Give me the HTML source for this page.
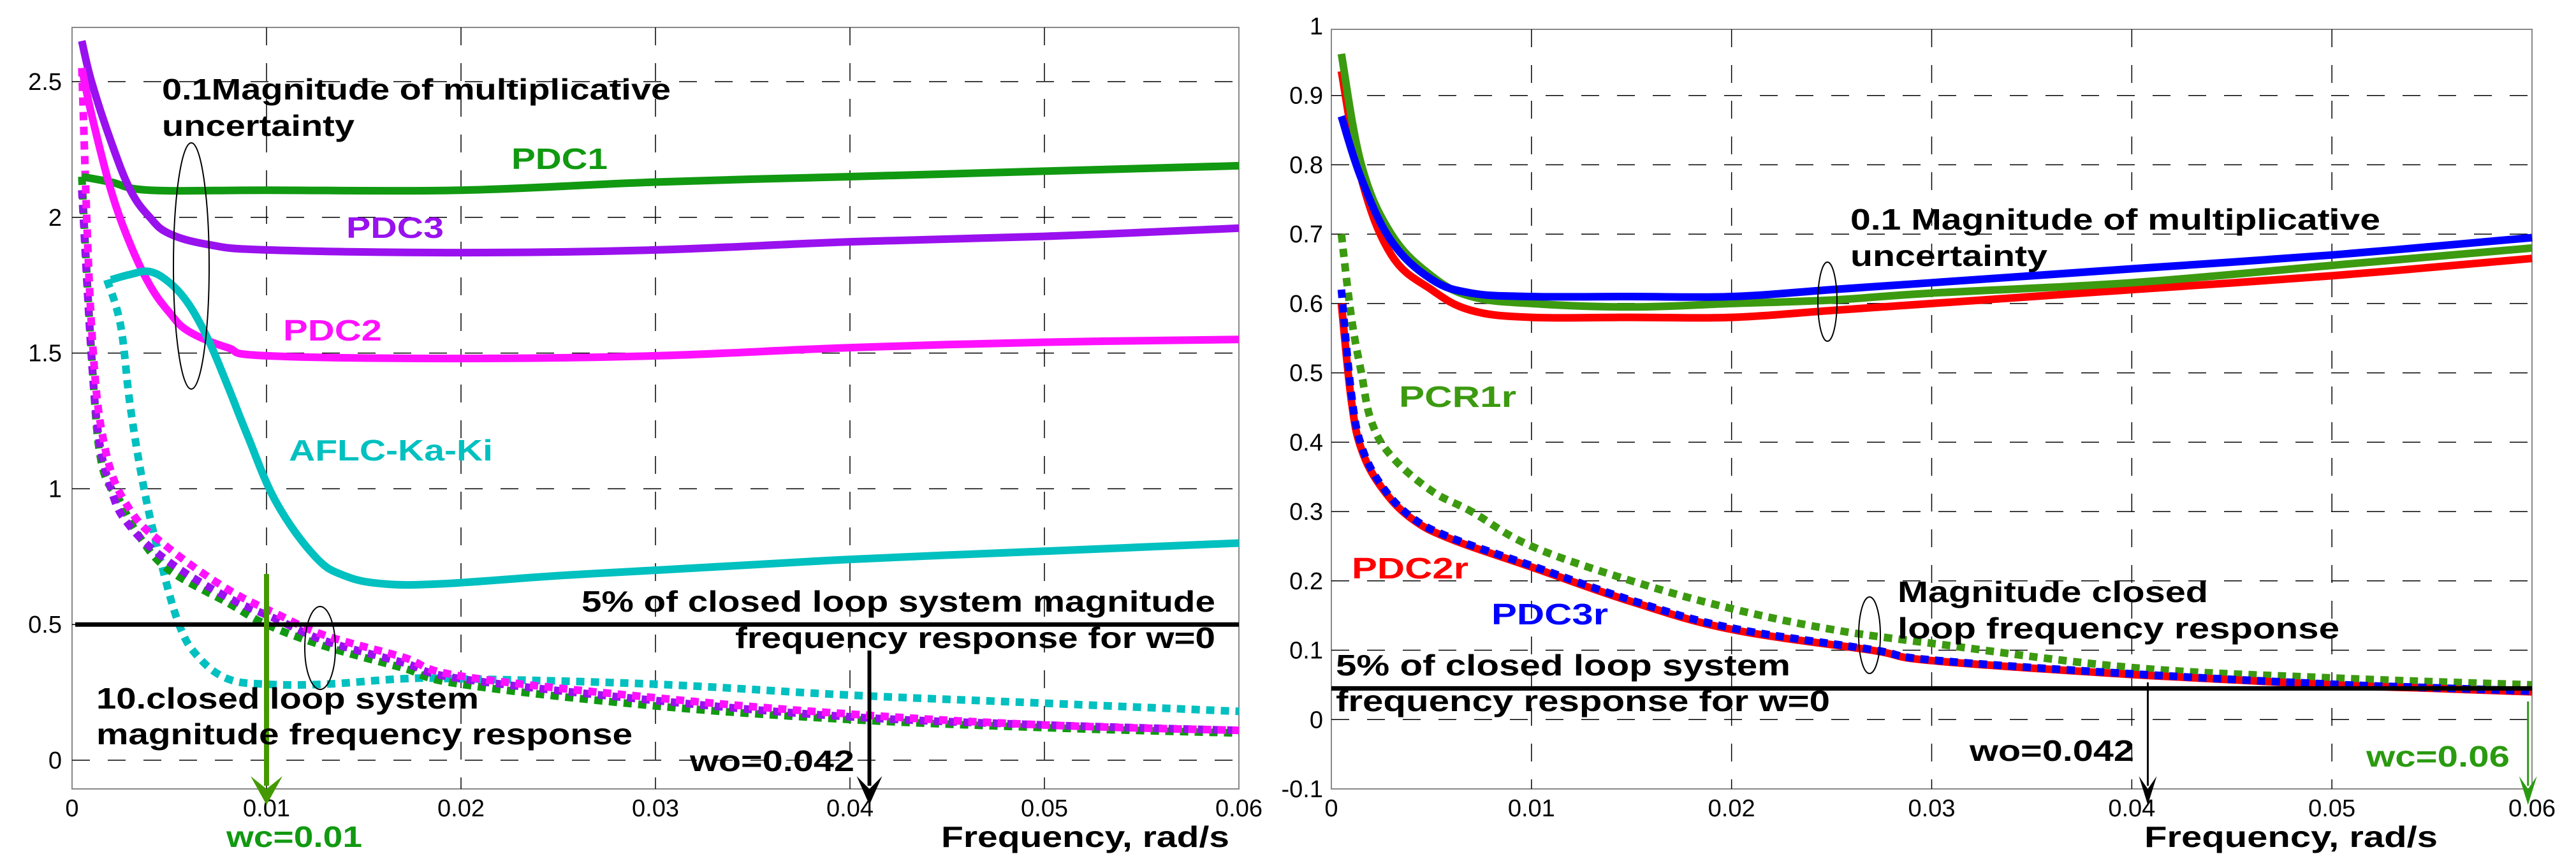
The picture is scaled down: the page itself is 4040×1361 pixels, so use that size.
<!DOCTYPE html>
<html><head><meta charset="utf-8"><style>
html,body{margin:0;padding:0;background:#fff;}
svg{display:block;font-family:"Liberation Sans",sans-serif;}
.t{font-size:38px;fill:#000;}
.b{font-size:46px;font-weight:bold;}
</style></head><body>
<svg id="c" width="4040" height="1361" viewBox="0 0 4040 1361" xmlns="http://www.w3.org/2000/svg">
<g id="L"></g>
<g id="R"></g>
</svg>
<script>
// ---------- data ----------
const xTicks = [0,0.01,0.02,0.03,0.04,0.05,0.06];
const xTickLabels = ["0","0.01","0.02","0.03","0.04","0.05","0.06"];
const leftYTicks = [0,0.5,1,1.5,2,2.5];
const leftYTickLabels = ["0","0.5","1","1.5","2","2.5"];
const rightYTicks = [-0.1,0,0.1,0.2,0.3,0.4,0.5,0.6,0.7,0.8,0.9,1];
const rightYTickLabels = ["-0.1","0","0.1","0.2","0.3","0.4","0.5","0.6","0.7","0.8","0.9","1"];

const pdc1X = [0.0005,0.002,0.004,0.01,0.02,0.03,0.04,0.05,0.06];
const pdc1Y = [2.15,2.13,2.1,2.1,2.1,2.13,2.15,2.17,2.19];
const pdc3X = [0.0005,0.001,0.002,0.003,0.004,0.005,0.007,0.01,0.02,0.03,0.04,0.05,0.06];
const pdc3Y = [2.65,2.5,2.28,2.1,2.0,1.94,1.9,1.88,1.87,1.88,1.91,1.93,1.96];
const pdc2X = [0.0005,0.001,0.002,0.003,0.004,0.005,0.006,0.008,0.01,0.02,0.03,0.04,0.05,0.06];
const pdc2Y = [2.55,2.38,2.1,1.9,1.75,1.65,1.58,1.52,1.49,1.48,1.49,1.52,1.54,1.55];
const aflcX = [0.002,0.003,0.004,0.005,0.006,0.007,0.008,0.009,0.0105,0.0125,0.014,0.016,0.019,0.025,0.03,0.04,0.05,0.06];
const aflcY = [1.77,1.79,1.8,1.76,1.68,1.55,1.38,1.2,0.95,0.75,0.68,0.65,0.65,0.68,0.7,0.74,0.77,0.8];
const aflcCLX = [0.0018,0.0025,0.003,0.0037,0.0045,0.0055,0.0065,0.008,0.01,0.013,0.017,0.02,0.03,0.04,0.05,0.06];
const aflcCLY = [1.77,1.6,1.3,1.0,0.75,0.5,0.38,0.3,0.28,0.28,0.3,0.3,0.28,0.24,0.21,0.18];
const pdc1CLX = [0.0005,0.001,0.0015,0.0025,0.0035,0.005,0.008,0.01,0.013,0.017,0.02,0.03,0.04,0.05,0.06];
const pdc1CLY = [2.15,1.5,1.1,0.95,0.82,0.7,0.58,0.5,0.42,0.34,0.28,0.2,0.15,0.12,0.1];
const pdc3CLX = [0.0005,0.0012,0.002,0.003,0.005,0.008,0.0105,0.013,0.017,0.02,0.03,0.04,0.05,0.06];
const pdc3CLY = [2.1,1.3,1.0,0.86,0.73,0.6,0.52,0.44,0.36,0.3,0.22,0.16,0.13,0.11];
const pdc2CLX = [0.0005,0.001,0.0017,0.003,0.005,0.008,0.0105,0.013,0.017,0.02,0.03,0.04,0.05,0.06];
const pdc2CLY = [2.55,1.6,1.15,0.92,0.78,0.63,0.54,0.46,0.38,0.31,0.23,0.17,0.13,0.11];
const leftThreshold = 0.5;

const rX = [0.0005,0.0015,0.003,0.005,0.007,0.01,0.015,0.02,0.025,0.03,0.04,0.05,0.06];
const pcr1rY = [0.96,0.8,0.7,0.64,0.61,0.6,0.595,0.6,0.605,0.615,0.63,0.655,0.68];
const pdc2rY = [0.935,0.78,0.67,0.62,0.59,0.58,0.58,0.58,0.59,0.6,0.62,0.64,0.665];
const pdc3rY = [0.87,0.78,0.69,0.635,0.615,0.61,0.61,0.61,0.62,0.63,0.65,0.67,0.695];
const pcr1rCLX = [0.0005,0.001,0.0015,0.002,0.003,0.005,0.007,0.01,0.015,0.02,0.025,0.03,0.04,0.05,0.06];
const pcr1rCLY = [0.7,0.58,0.5,0.43,0.38,0.33,0.3,0.25,0.2,0.16,0.13,0.11,0.075,0.06,0.05];
const rCLX = [0.0005,0.001,0.0015,0.0025,0.004,0.006,0.01,0.015,0.02,0.027,0.03,0.04,0.05,0.055,0.06];
const pdc2rCLY = [0.6,0.46,0.39,0.335,0.29,0.26,0.22,0.17,0.13,0.1,0.085,0.065,0.05,0.045,0.04];
const pdc3rCLY = [0.62,0.47,0.395,0.338,0.292,0.262,0.222,0.172,0.132,0.101,0.086,0.066,0.051,0.046,0.041];
const rightThreshold = 0.045;

// ---------- helpers ----------
const NS="http://www.w3.org/2000/svg";
function mk(tag,parent,attrs){const e=document.createElementNS(NS,tag);for(const k in attrs)e.setAttribute(k,attrs[k]);parent.appendChild(e);return e;}
function axes(x0,x1,yPx0,yPx1,v0,v1){
  return {sx:v=>x0+(v/0.06)*(x1-x0), sy:v=>yPx0+(v-v0)/(v1-v0)*(yPx1-yPx0)};
}
function pathOf(ax,xs,ys){
  const P=xs.map((x,i)=>[ax.sx(x),ax.sy(ys[i])]);
  let d="M"+P[0][0].toFixed(1)+","+P[0][1].toFixed(1);
  for(let i=0;i<P.length-1;i++){
    const p0=P[Math.max(0,i-1)],p1=P[i],p2=P[i+1],p3=P[Math.min(P.length-1,i+2)];
    const t=0.18;
    const c1=[p1[0]+(p2[0]-p0[0])*t,p1[1]+(p2[1]-p0[1])*t];
    const c2=[p2[0]-(p3[0]-p1[0])*t,p2[1]-(p3[1]-p1[1])*t];
    d+=` C${c1[0].toFixed(1)},${c1[1].toFixed(1)} ${c2[0].toFixed(1)},${c2[1].toFixed(1)} ${p2[0].toFixed(1)},${p2[1].toFixed(1)}`;
  }
  return d;
}

function frame(g,ax,left,right,top,bottom,yt,ytl,labelRight){
  const fr=mk('rect',g,{x:left,y:top,width:right-left,height:bottom-top,fill:'none',stroke:'#888','stroke-width':2});
  
  
  xTicks.forEach((t,i)=>{
    const x=ax.sx(t);
    if(i>0&&i<xTicks.length-1){
      const l=mk('line',g,{x1:x,x2:x,y1:top,y2:bottom,stroke:'#000','stroke-width':1.5,'stroke-dasharray':'28 28'});
      
      
    }
    const tx=mk('text',g,{x:x,y:1280,'text-anchor':'middle',class:'t'});tx.textContent=xTickLabels[i];
    
    
  });
  yt.forEach((t,i)=>{
    const y=ax.sy(t);
    if(y>top+3&&y<bottom-3){
      const l=mk('line',g,{x1:left,x2:right,y1:y,y2:y,stroke:'#000','stroke-width':1.5,'stroke-dasharray':'28 28'});
      
      
    }
    const tx=mk('text',g,{x:labelRight,y:y+13,'text-anchor':'end',class:'t'});tx.textContent=ytl[i];
    
    
  });
}
function line(g,ax,xs,ys,color,dotted,name){
  const p=mk('path',g,{d:pathOf(ax,xs,ys),fill:'none',stroke:color,'stroke-width':12,'stroke-linejoin':'round'});
  if(dotted)p.setAttribute('stroke-dasharray','13 10');
  
  
}
function label(g,x,y,str,color,len,name,size){
  const t=mk('text',g,{x:x,y:y,class:'b',fill:color,textLength:len,lengthAdjust:'spacingAndGlyphs'});
  if(size)t.setAttribute('font-size',size);
  t.textContent=str;
  
  
}
function arrow(g,x,y1,y2,color,w,hw,name){
  const a=mk('g',g,{});
  
  
  mk('line',a,{x1:x,x2:x,y1:y1,y2:y2-30,stroke:color,'stroke-width':w});
  mk('path',a,{d:`M${x-hw},${y2-45} L${x},${y2} L${x+hw},${y2-45} L${x},${y2-25} Z`,fill:color});
}
function ell(g,cx,cy,rx,ry,name){
  const e=mk('ellipse',g,{cx:cx,cy:cy,rx:rx,ry:ry,fill:'none',stroke:'#000','stroke-width':2});
  
  
}

// ---------- left chart ----------
const L=document.getElementById('L');
const aL=axes(113,1943,1192,766.4,0,1);
frame(L,aL,113,1943,43,1237,leftYTicks,leftYTickLabels,97);
line(L,aL,aflcCLX,aflcCLY,'#00c0c0',true,'aflc-closed-loop-line');
line(L,aL,pdc1CLX,pdc1CLY,'#119911',true,'pdc1-closed-loop-line');
line(L,aL,pdc3CLX,pdc3CLY,'#9911ee',true,'pdc3-closed-loop-line');
line(L,aL,pdc2CLX,pdc2CLY,'#ff11ff',true,'pdc2-closed-loop-line');
line(L,aL,pdc1X,pdc1Y,'#119911',false,'pdc1-line');
line(L,aL,pdc3X,pdc3Y,'#9911ee',false,'pdc3-line');
line(L,aL,pdc2X,pdc2Y,'#ff11ff',false,'pdc2-line');
line(L,aL,aflcX,aflcY,'#00c0c0',false,'aflc-ka-ki-line');
{const th=mk('line',L,{x1:118,x2:1943,y1:aL.sy(leftThreshold),y2:aL.sy(leftThreshold),stroke:'#000','stroke-width':7});

}
ell(L,300,417,28,193,'uncertainty-ellipse');
ell(L,502,1016,24,65,'closed-loop-ellipse');
arrow(L,aL.sx(0.01),900,1262,'#449900',8,25,'wc-arrow');
arrow(L,aL.sx(0.041),1020,1262,'#000',6,20,'wo-arrow');
label(L,254,156,'0.1Magnitude of multiplicative','#000',798,'uncertainty-annotation');
label(L,254,213,'uncertainty','#000',302,'uncertainty-annotation-line2');
label(L,802,265,'PDC1','#119911',151,'pdc1-label');
label(L,543,373,'PDC3','#9911ee',153,'pdc3-label');
label(L,444,534,'PDC2','#ff11ff',155,'pdc2-label');
label(L,453,722,'AFLC-Ka-Ki','#00c0c0',320,'aflc-label');
label(L,912,959,'5% of closed loop system magnitude','#000',994,'threshold-annotation');
label(L,1153,1016,'frequency response for w=0','#000',753,'threshold-annotation-line2');
label(L,151,1111,'10.closed loop system','#000',600,'closed-loop-annotation');
label(L,151,1167,'magnitude frequency response','#000',841,'closed-loop-annotation-line2');
label(L,1082,1209,'wo=0.042','#000',258,'wo-label');
label(L,355,1328,'wc=0.01','#119911',213,'wc-label');
label(L,1476,1328,'Frequency, rad/s','#000',452,'x-axis-title');

// ---------- right chart ----------
const R=document.getElementById('R');
const aR=axes(2088,3971,1237,1128.27,-0.1,0);
frame(R,aR,2088,3971,46,1237,rightYTicks,rightYTickLabels,2075);
line(R,aR,pcr1rCLX,pcr1rCLY,'#3c9a10',true,'pcr1r-closed-loop-line');
line(R,aR,rCLX,pdc2rCLY,'#ff0000',false,'pdc2r-closed-loop-base');
line(R,aR,rCLX,pdc3rCLY,'#0000ff',true,'pdc3r-closed-loop-line');
line(R,aR,rX,pdc2rY,'#ff0000',false,'pdc2r-line');
line(R,aR,rX,pcr1rY,'#3c9a10',false,'pcr1r-line');
line(R,aR,rX,pdc3rY,'#0000ff',false,'pdc3r-line');
{const th=mk('line',R,{x1:2088,x2:3971,y1:aR.sy(rightThreshold),y2:aR.sy(rightThreshold),stroke:'#000','stroke-width':7});

}
ell(R,2866,473,15,62,'uncertainty-ellipse');
ell(R,2932,996,17,60,'closed-loop-ellipse');
arrow(R,aR.sx(0.0408),1070,1262,'#000',3,14,'wo-arrow');
arrow(R,aR.sx(0.0598),1100,1262,'#2a9a10',3,14,'wc-arrow');
label(R,2902,360,'0.1 Magnitude of multiplicative','#000',831,'uncertainty-annotation');
label(R,2902,417,'uncertainty','#000',309,'uncertainty-annotation-line2');
label(R,2194,638,'PCR1r','#3c9a10',184,'pcr1r-label');
label(R,2120,907,'PDC2r','#ff0000',183,'pdc2r-label');
label(R,2339,979,'PDC3r','#0000ff',183,'pdc3r-label');
label(R,2976,944,'Magnitude closed','#000',487,'closed-loop-annotation');
label(R,2976,1001,'loop frequency response','#000',693,'closed-loop-annotation-line2');
label(R,2095,1059,'5% of closed loop system','#000',713,'threshold-annotation');
label(R,2095,1115,'frequency response for w=0','#000',775,'threshold-annotation-line2');
label(R,3089,1193,'wo=0.042','#000',258,'wo-label');
label(R,3711,1202,'wc=0.06','#2a9a10',225,'wc-label');
label(R,3363,1328,'Frequency, rad/s','#000',460,'x-axis-title');
</script>
</body></html>
